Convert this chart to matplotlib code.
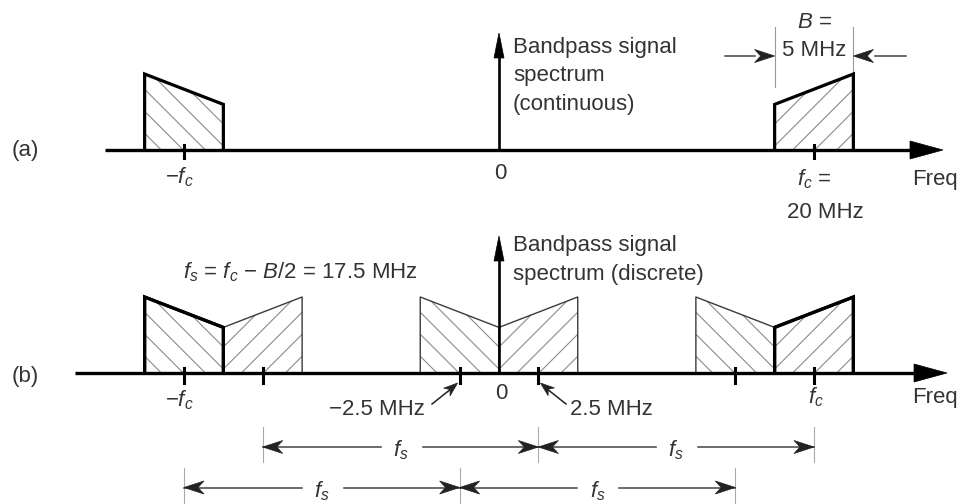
import numpy as np
import matplotlib.pyplot as plt
from matplotlib.patches import Polygon

plt.rcParams['font.family'] = ['Liberation Sans', 'DejaVu Sans']
plt.rcParams['mathtext.fontset'] = 'custom'
plt.rcParams['mathtext.rm'] = 'Liberation Sans'
plt.rcParams['mathtext.it'] = 'Liberation Sans:italic'
plt.rcParams['mathtext.bf'] = 'Liberation Sans:bold'

# values in MHz
fc = 20.0
B = 5.0
fs = 17.5

# (a) continuous spectrum: band edges and relative amplitude at each edge
a_lo = [-22.5, 17.5]
a_hi = [-17.5, 22.5]
a_amp_lo = [1.0, 0.6]
a_amp_hi = [0.6, 1.0]
a_ticks = [-20.0, 20.0]

# (b) sampled spectrum (original bands + replicas)
b_lo = [-22.5, -17.5, -5.0, 0.0, 12.5, 17.5]
b_hi = [-17.5, -12.5, 0.0, 5.0, 17.5, 22.5]
b_amp_lo = [1.0, 0.6, 1.0, 0.6, 1.0, 0.6]
b_amp_hi = [0.6, 1.0, 0.6, 1.0, 0.6, 1.0]
b_orig = [True, False, False, False, False, True]
b_ticks = [-20.0, -15.0, -2.5, 2.5, 15.0, 20.0]

# fs spacing dimension lines
fs_row1 = [-15.0, 2.5, 20.0]
fs_row2 = [-20.0, -2.5, 15.0]

# layout (pixels)
W, H = 963, 504
X0, SC = 499.0, 15.75      # px of 0 MHz, px per MHz
AMP = 76.0                 # px for amplitude 1
BASE_A, BASE_B = 150.0, 373.0
TXT = '#333333'
FS = 16


def f2px(f):
    return X0 + f * SC


def px2f(p):
    return (p - X0) / SC


fig = plt.figure(figsize=(W / 100, H / 100), dpi=100)
ax = fig.add_axes([0, 0, 1, 1])
ax.set_xlim(px2f(0), px2f(W))
ax.set_ylim(H, 0)
ax.axis('off')


def head(tip_f, tip_y, ux, uy, L, w, notch=0.0, color='k'):
    # arrow head polygon, direction (ux, uy) in pixel space
    tx, ty = f2px(tip_f), tip_y
    bx, by = tx - L * ux, ty - L * uy
    px_, py_ = -uy, ux
    pts = [(tx, ty), (bx + w * px_, by + w * py_),
           (tx - (L - notch) * ux, ty - (L - notch) * uy),
           (bx - w * px_, by - w * py_)]
    pts = [(px2f(x), y) for x, y in pts]
    ax.add_patch(Polygon(pts, closed=True, facecolor=color, edgecolor=color,
                         lw=0.5, zorder=6))


def band(lo, hi, base, al, ah, bold):
    xs = [lo, lo, hi, hi]
    ys = [base, base - AMP * al, base - AMP * ah, base]
    patch = Polygon(np.column_stack([xs, ys]), closed=True, fill=False,
                    edgecolor='none')
    ax.add_patch(patch)
    xl, xr = f2px(lo), f2px(hi)
    rising = ah > al
    step = 22.0
    if rising:
        cs = np.arange(base - AMP + xl + 6, base + xr, step)
        for c in cs:
            x = np.array([xl - 5, xr + 5])
            ln, = ax.plot(px2f(x), c - x, color='#8a8a8a', lw=0.8, zorder=2)
            ln.set_clip_path(patch)
    else:
        cs = np.arange(base - AMP - xr + 6, base - xl, step)
        for c in cs:
            x = np.array([xl - 5, xr + 5])
            ln, = ax.plot(px2f(x), c + x, color='#8a8a8a', lw=0.8, zorder=2)
            ln.set_clip_path(patch)
    if bold:
        ax.plot(xs, ys, color='k', lw=2.3, zorder=4, solid_joinstyle='miter')
    else:
        ax.plot(xs, ys, color='#3a3a3a', lw=1.0, zorder=3)


def freq_axis(base, x_start, x_tip):
    ax.plot([px2f(x_start), px2f(x_tip - 20)], [base, base], color='k',
            lw=2.4, zorder=5, solid_capstyle='butt')
    head(px2f(x_tip), base, 1, 0, 33, 9)


def dim_row(vals, y, ext_top, ext_bot):
    for v in vals:
        ax.plot([v, v], [ext_top, ext_bot], color='#aaaaaa', lw=0.8)
    for s, e in zip(vals[:-1], vals[1:]):
        m = f2px((s + e) / 2)
        ax.plot([s, px2f(m - 20)], [y, y], color='#444444', lw=1.1)
        ax.plot([px2f(m + 22), e], [y, y], color='#444444', lw=1.1)
        head(s, y, -1, 0, 20, 6.5, notch=6, color='#222222')
        head(e, y, 1, 0, 20, 6.5, notch=6, color='#222222')
        ax.text(px2f(m), y + 9.5, r'$f_s$', ha='center', va='baseline',
                fontsize=FS, color=TXT)


# ---------------- (a) ----------------
for lo, hi, al, ah in zip(a_lo, a_hi, a_amp_lo, a_amp_hi):
    band(lo, hi, BASE_A, al, ah, True)
freq_axis(BASE_A, 105, 943)
for t in a_ticks:
    ax.plot([t, t], [BASE_A - 5, BASE_A + 8], color='k', lw=2.2, zorder=5)
ax.plot([0, 0], [BASE_A, 50], color='k', lw=1.9, zorder=5)
head(0, 33, 0, -1, 25, 5)

ax.text(px2f(12), 156, '(a)', fontsize=FS, color=TXT, va='baseline')
ax.text(px2f(513), 53, 'Bandpass signal', fontsize=FS, color=TXT, va='baseline')
ax.text(px2f(513), 81.5, 'spectrum', fontsize=FS, color=TXT, va='baseline')
ax.text(px2f(513), 110, '(continuous)', fontsize=FS, color=TXT, va='baseline')
ax.text(px2f(500), 179, '0', fontsize=FS, color=TXT, ha='center', va='baseline')
ax.text(a_ticks[0] - 0.3, 183, r'$-f_c$', fontsize=FS, color=TXT,
        ha='center', va='baseline')
ax.text(fc, 185, r'$f_c$ =', fontsize=FS, color=TXT, ha='center', va='baseline')
ax.text(px2f(825.5), 218, '20 MHz', fontsize=FS, color=TXT, ha='center',
        va='baseline')
ax.text(px2f(912), 185, 'Freq', fontsize=FS, color=TXT, va='baseline')

# bandwidth marker
b_edges = [fc - B / 2, fc + B / 2]
for e in b_edges:
    ax.plot([e, e], [27, 87], color='#999999', lw=0.8)
ax.plot([px2f(725), px2f(755)], [56, 56], color='#444444', lw=1.1)
head(b_edges[0], 56, 1, 0, 20, 6.5, notch=6, color='#222222')
ax.plot([px2f(875), px2f(906)], [56, 56], color='#444444', lw=1.1)
head(b_edges[1], 56, -1, 0, 20, 6.5, notch=6, color='#222222')
ax.text(fc, 28, r'$B$ =', fontsize=FS, color=TXT, ha='center', va='baseline')
ax.text(fc, 56.5, '5 MHz', fontsize=FS, color=TXT, ha='center', va='baseline')

# ---------------- (b) ----------------
for lo, hi, al, ah, o in zip(b_lo, b_hi, b_amp_lo, b_amp_hi, b_orig):
    band(lo, hi, BASE_B, al, ah, o)
for lo, hi, al, ah, o in zip(b_lo, b_hi, b_amp_lo, b_amp_hi, b_orig):
    if o:
        ax.plot([lo, lo, hi, hi],
                [BASE_B, BASE_B - AMP * al, BASE_B - AMP * ah, BASE_B],
                color='k', lw=2.3, zorder=4, solid_joinstyle='miter')
freq_axis(BASE_B, 75, 947)
for t in b_ticks:
    ax.plot([t, t], [BASE_B - 5, BASE_B + 10], color='k', lw=2.2, zorder=5)
ax.plot([0, 0], [BASE_B, 252], color='k', lw=1.9, zorder=5)
head(0, 236, 0, -1, 25, 5)

ax.text(px2f(12), 382, '(b)', fontsize=FS, color=TXT, va='baseline')
ax.text(px2f(513), 251.5, 'Bandpass signal', fontsize=FS, color=TXT,
        va='baseline')
ax.text(px2f(513), 280, 'spectrum (discrete)', fontsize=FS, color=TXT,
        va='baseline')
ax.text(px2f(183), 278, r'$f_s$ = $f_c$ $-$ $B$/2 = 17.5 MHz', fontsize=FS,
        color=TXT, va='baseline')
ax.text(px2f(501.5), 399, '0', fontsize=FS, color=TXT, ha='center',
        va='baseline')
ax.text(b_ticks[0] - 0.3, 406, r'$-f_c$', fontsize=FS, color=TXT,
        ha='center', va='baseline')
ax.text(b_ticks[-1] + 0.1, 403, r'$f_c$', fontsize=FS, color=TXT,
        ha='center', va='baseline')
ax.text(px2f(912), 403, 'Freq', fontsize=FS, color=TXT, va='baseline')

# pointers to +/-2.5 MHz
tip_l = f2px(b_ticks[2]) - 2
ax.plot([px2f(432), px2f(tip_l - 8)], [404, BASE_B + 17], color='#222222', lw=1.1)
head(px2f(tip_l), BASE_B + 10, 25 / 32.6, -21 / 32.6, 14, 5, notch=4,
     color='#222222')
ax.text(px2f(425), 415, '\u22122.5 MHz', fontsize=FS, color=TXT, ha='right',
        va='baseline')
tip_r = f2px(b_ticks[3]) + 2
ax.plot([px2f(566), px2f(tip_r + 8)], [404, BASE_B + 17], color='#222222', lw=1.1)
head(px2f(tip_r), BASE_B + 10, -26 / 33.4, -21 / 33.4, 14, 5, notch=4,
     color='#222222')
ax.text(px2f(570), 415, '2.5 MHz', fontsize=FS, color=TXT, va='baseline')

# fs spacing
dim_row(fs_row1, 447, 427, 462)
dim_row(fs_row2, 487.5, 468, 504)

fig.savefig('out.png', dpi=100)
